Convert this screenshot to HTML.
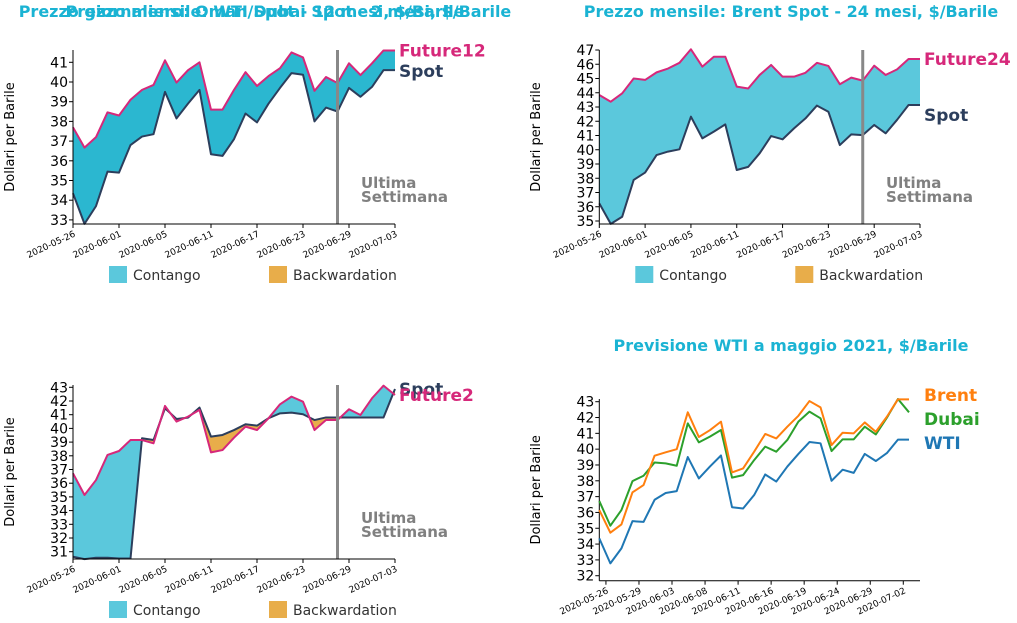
<!DOCTYPE html>
<html><head><meta charset="utf-8"><style>
body{margin:0;background:#fff;}
svg{display:block;font-family:"DejaVu Sans","Liberation Sans",sans-serif;}
</style></head><body>
<svg id="chart" width="1017" height="623" viewBox="0 0 1017 623"></svg>
<script>
// Panel 1: WTI monthly
const p1Future = [37.7,36.67,37.2,38.46,38.3,39.1,39.6,39.85,41.1,39.97,40.6,41.0,38.6,38.6,39.6,40.5,39.8,40.3,40.7,41.5,41.25,39.55,40.25,39.95,40.95,40.35,40.95,41.6,41.6];
const p1Spot = [34.35,32.8,33.7,35.45,35.4,36.8,37.23,37.35,39.5,38.15,38.9,39.6,36.33,36.25,37.1,38.4,37.95,38.9,39.7,40.45,40.37,38.0,38.7,38.5,39.7,39.25,39.75,40.6,40.6];
const p1YTicks = [33,34,35,36,37,38,39,40,41];
// Panel 2: Brent
const p2Future = [43.84,43.37,43.96,45.0,44.9,45.43,45.7,46.1,47.05,45.83,46.53,46.53,44.43,44.3,45.25,45.95,45.13,45.13,45.4,46.1,45.88,44.6,45.06,44.85,45.9,45.25,45.64,46.37,46.37];
const p2Spot = [36.24,34.8,35.3,37.88,38.4,39.63,39.87,40.03,42.32,40.8,41.27,41.78,38.58,38.8,39.75,40.96,40.73,41.5,42.2,43.1,42.67,40.33,41.08,41.03,41.74,41.15,42.1,43.14,43.14];
const p2YTicks = [35,36,37,38,39,40,41,42,43,44,45,46,47];
// Panel 3: Oman/Dubai
const p3Future = [36.72,35.14,36.23,38.06,38.35,39.15,39.15,38.91,41.64,40.5,40.86,41.35,38.25,38.42,39.32,40.13,39.88,40.74,41.76,42.32,41.95,39.88,40.61,40.61,41.4,40.98,42.2,43.12,42.44];
const p3Spot = [30.63,30.46,30.56,30.56,30.5,30.5,39.28,39.15,41.47,40.69,40.79,41.52,39.4,39.52,39.88,40.3,40.2,40.74,41.1,41.15,41.03,40.61,40.8,40.8,40.8,40.8,40.8,40.8,42.88];
const p3YTicks = [31,32,33,34,35,36,37,38,39,40,41,42,43];
// shared dates
const dateTicks = ["2020-05-26","2020-06-01","2020-06-05","2020-06-11","2020-06-17","2020-06-23","2020-06-29","2020-07-03"];
// Panel 4: forecast
const p4Brent = [36.15,34.72,35.24,37.27,37.73,39.59,39.8,40.0,42.33,40.77,41.2,41.74,38.53,38.78,39.84,40.96,40.68,41.42,42.11,43.04,42.64,40.26,41.04,41.0,41.69,41.1,42.05,43.15,43.15];
const p4Dubai = [36.72,35.16,36.15,37.98,38.32,39.16,39.1,38.95,41.63,40.43,40.79,41.21,38.2,38.36,39.31,40.16,39.84,40.58,41.74,42.37,41.95,39.88,40.62,40.62,41.42,40.93,41.99,43.17,42.33];
const p4WTI = [34.36,32.78,33.73,35.45,35.4,36.8,37.23,37.35,39.5,38.15,38.9,39.6,36.33,36.25,37.1,38.4,37.95,38.9,39.7,40.45,40.37,38.0,38.7,38.5,39.7,39.25,39.75,40.6,40.6];
const p4YTicks = [32,33,34,35,36,37,38,39,40,41,42,43];
const p4DateTicks = ["2020-05-26","2020-05-29","2020-06-03","2020-06-08","2020-06-11","2020-06-16","2020-06-19","2020-06-24","2020-06-29","2020-07-02"];

const NS="http://www.w3.org/2000/svg";
const svg=document.getElementById('chart');
function mk(tag,parent){const e=document.createElementNS(NS,tag);parent.appendChild(e);return e;}
function txt(parent,x,y,s,size,fill,weight,anchor){const t=mk('text',parent);t.setAttribute('x',x);t.setAttribute('y',y);t.setAttribute('font-size',size);t.setAttribute('fill',fill);if(weight)t.setAttribute('font-weight',weight);if(anchor)t.setAttribute('text-anchor',anchor);t.textContent=s;return t;}
let clipId=0;

function axes(g,cfg,xs,ys){
  const ax=mk('line',g);ax.setAttribute('x1',cfg.x0);ax.setAttribute('x2',cfg.x0);ax.setAttribute('y1',cfg.top);ax.setAttribute('y2',cfg.bot);ax.setAttribute('stroke','#000');
  
  const bx=mk('line',g);bx.setAttribute('x1',cfg.x0);bx.setAttribute('x2',cfg.x1);bx.setAttribute('y1',cfg.bot);bx.setAttribute('y2',cfg.bot);bx.setAttribute('stroke','#000');
  
  cfg.yTicks.forEach(v=>{const y=ys(v);const l=mk('line',g);l.setAttribute('x1',cfg.x0-4);l.setAttribute('x2',cfg.x0);l.setAttribute('y1',y);l.setAttribute('y2',y);l.setAttribute('stroke','#000');
    const t=txt(g,cfg.x0-5,y+5,String(v),14,'#000',null,'end');
    
    });
  cfg.xLabels.forEach((s,i)=>{const x=xs(cfg.xTickIdx(i));const l=mk('line',g);l.setAttribute('x1',x);l.setAttribute('x2',x);l.setAttribute('y1',cfg.bot);l.setAttribute('y2',cfg.bot+4);l.setAttribute('stroke','#000');
    const t=txt(g,0,0,s,9,'#000',null,'end');t.setAttribute('transform','translate('+(x+3)+','+(cfg.bot+12)+') rotate(-25)');
    
    });
  const yt=txt(g,0,0,'Dollari per Barile',13,'#000',null,'middle');
  yt.setAttribute('transform','translate('+(cfg.yTitleX)+','+((cfg.top+cfg.bot)/2)+') rotate(-90)');
  
  
}

function spreadPanel(cfg){
  const g=mk('g',svg);
  
  
  const n=cfg.fut.length;
  const xs=i=>cfg.x0+(cfg.x1-cfg.x0)*i/(n-1);
  const ys=v=>cfg.yRef+(cfg.yRefV-v)*cfg.ppu;
  const t=txt(g,cfg.titleX,17,cfg.title,16,'#1ab3d3','bold','middle');
  
  
  const fp=cfg.fut.map((v,i)=>[xs(i),ys(v)]), sp=cfg.spot.map((v,i)=>[xs(i),ys(v)]);
  const poly=fp.map(p=>p.join(',')).concat(sp.slice().reverse().map(p=>p.join(','))).join(' ');
  const above='M'+sp.map(p=>p.join(',')).join(' L')+' L'+cfg.x1+',0 L'+cfg.x0+',0 Z';
  const below='M'+sp.map(p=>p.join(',')).join(' L')+' L'+cfg.x1+',623 L'+cfg.x0+',623 Z';
  const defs=mk('defs',g);
  const ca=mk('clipPath',defs);ca.id='c'+(++clipId);const pa=mk('path',ca);pa.setAttribute('d',above);
  const cb=mk('clipPath',defs);cb.id='c'+(++clipId);const pb=mk('path',cb);pb.setAttribute('d',below);
  const a1=mk('polygon',g);a1.setAttribute('points',poly);a1.setAttribute('fill',cfg.cont);a1.setAttribute('clip-path','url(#'+ca.id+')');
  
  const a2=mk('polygon',g);a2.setAttribute('points',poly);a2.setAttribute('fill','#e8ad4a');a2.setAttribute('clip-path','url(#'+cb.id+')');
  
  const ls=mk('polyline',g);ls.setAttribute('points',sp.map(p=>p.join(',')).join(' '));ls.setAttribute('fill','none');ls.setAttribute('stroke','#2c3e5c');ls.setAttribute('stroke-width','2');ls.setAttribute('stroke-linejoin','round');
  
  const lf=mk('polyline',g);lf.setAttribute('points',fp.map(p=>p.join(',')).join(' '));lf.setAttribute('fill','none');lf.setAttribute('stroke','#d6287a');lf.setAttribute('stroke-width','2');lf.setAttribute('stroke-linejoin','round');
  
  const vx=xs(cfg.vIdx);const vl=mk('line',g);vl.setAttribute('x1',vx);vl.setAttribute('x2',vx);vl.setAttribute('y1',cfg.top);vl.setAttribute('y2',cfg.bot);vl.setAttribute('stroke','#888');vl.setAttribute('stroke-width','3');
  
  axes(g,cfg,xs,ys);
  const lf2=txt(g,cfg.x1+4,ys(cfg.fut[n-1])+6,cfg.futName,17,'#d6287a','bold');
  
  const ls2=txt(g,cfg.x1+4,ys(cfg.spot[n-1])+cfg.spotOff,'Spot',17,'#2c3e5c','bold');
  
  if(cfg.futName==='Future2'){lf2.remove();g.appendChild(lf2);}
  const u1=txt(g,cfg.x1-34,cfg.top+138,'Ultima',15,'#808080','bold');
  
  const u2=txt(g,cfg.x1-34,cfg.top+152,'Settimana',15,'#808080','bold');
  
  [['Contango','#5bc8dc',36],['Backwardation','#e8ad4a',196]].forEach(e=>{
    const r=mk('rect',g);r.setAttribute('x',cfg.x0+e[2]);r.setAttribute('y',cfg.legY);r.setAttribute('width',18);r.setAttribute('height',17);r.setAttribute('fill',e[1]);
    
    const lt=txt(g,cfg.x0+e[2]+24,cfg.legY+14,e[0],14,'#333');
    
  });
}

spreadPanel({name:'wti-monthly-panel',title:'Prezzo mensile: WTI Spot - 12 mesi, $/Barile',titleX:265,fut:p1Future,spot:p1Spot,futName:'Future12',spotOff:7,
  x0:73,x1:395,top:50,bot:224,yRef:62.3,yRefV:41,ppu:19.7,yTicks:p1YTicks,xLabels:dateTicks,xTickIdx:i=>i*4,yTitleX:14,vIdx:23,cont:'#2bb7d0',legY:266});
spreadPanel({name:'brent-monthly-panel',title:'Prezzo mensile: Brent Spot - 24 mesi, $/Barile',titleX:791,fut:p2Future,spot:p2Spot,futName:'Future24',spotOff:16,
  x0:599.3,x1:920,top:50,bot:224,yRef:50,yRefV:47,ppu:14.25,yTicks:p2YTicks,xLabels:dateTicks,xTickIdx:i=>i*4,yTitleX:540,vIdx:23,cont:'#5bc8dc',legY:266});
spreadPanel({name:'oman-dubai-daily-panel',title:'Prezzo giornaliero: Oman/Dubai Spot - 2 mesi, $/Barile',titleX:265,fut:p3Future,spot:p3Spot,futName:'Future2',spotOff:6,
  x0:73,x1:395,top:385,bot:559,yRef:387.3,yRefV:43,ppu:13.7,yTicks:p3YTicks,xLabels:dateTicks,xTickIdx:i=>i*4,yTitleX:14,vIdx:23,cont:'#5bc8dc',legY:601});

// panel 4
(function(){
  const g=mk('g',svg);
  
  
  const cfg={x0:599.3,x1:920,top:399,bot:580.7,yTicks:p4YTicks,xLabels:p4DateTicks,xTickIdx:i=>0.6+i*2.987,yTitleX:540};
  const n=p4Brent.length;
  const xs=i=>599.3+(909-599.3)*i/(n-1);
  const ys=v=>401.7+(43-v)*15.82;
  const t=txt(g,791,351,'Previsione WTI a maggio 2021, $/Barile',16,'#1ab3d3','bold','middle');
  
  
  axes(g,cfg,xs,ys);
  const series=[['WTI',p4WTI,'#1f77b4',449],['Dubai',p4Dubai,'#2ca02c',425],['Brent',p4Brent,'#ff7f0e',401]];
  series.forEach(s=>{
    const l=mk('polyline',g);l.setAttribute('points',s[1].map((v,i)=>xs(i)+','+ys(v)).join(' '));l.setAttribute('fill','none');l.setAttribute('stroke',s[2]);l.setAttribute('stroke-width','2');l.setAttribute('stroke-linejoin','round');
    
    
    const lt=txt(g,924,s[3],s[0],17,s[2],'bold');
    
    
  });
})();
</script>
</body></html>
